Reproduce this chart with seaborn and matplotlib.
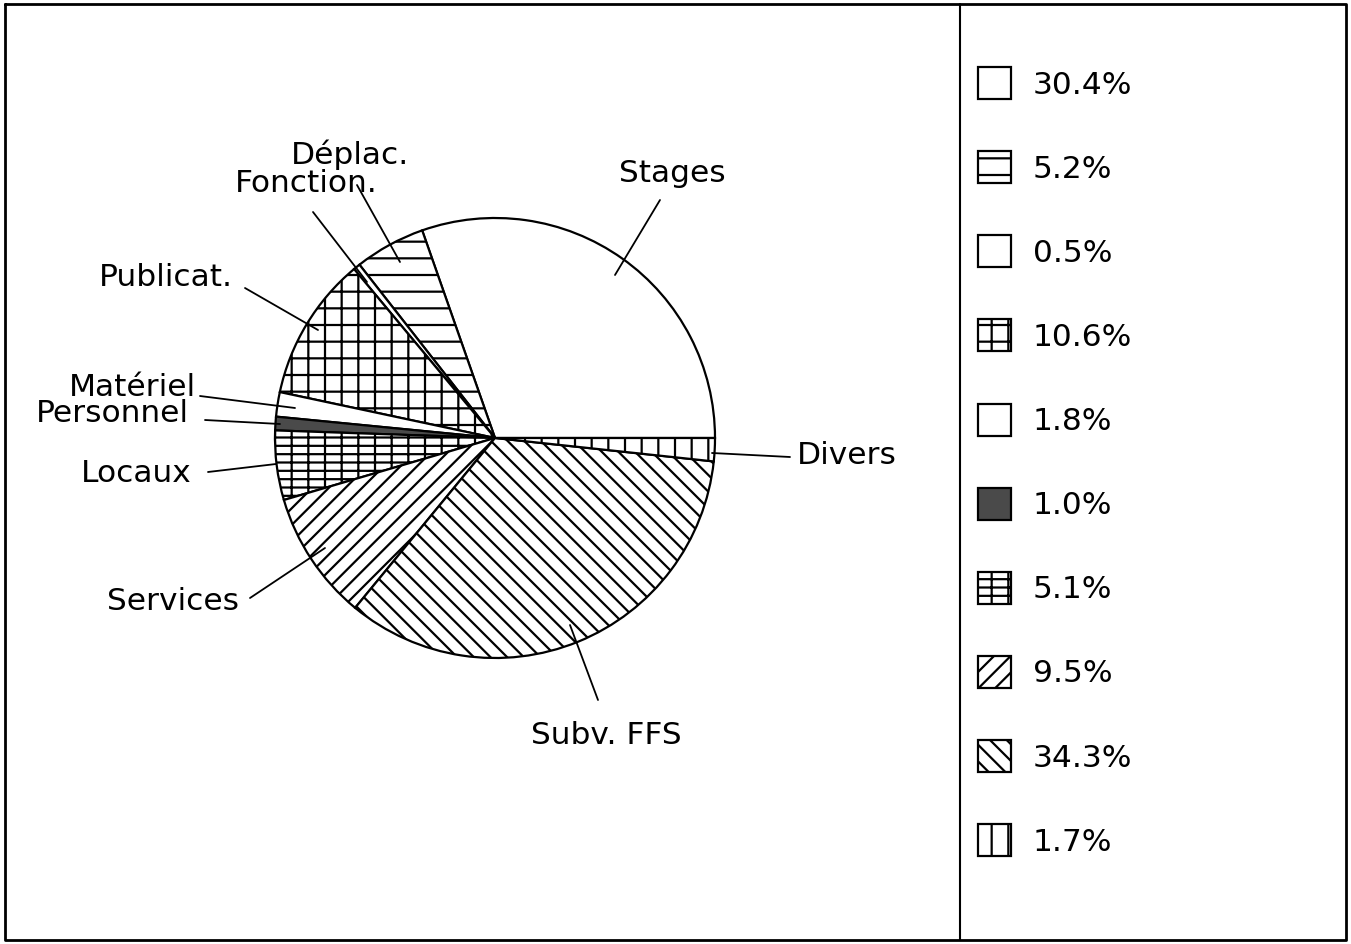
import matplotlib
matplotlib.use("Agg")
import matplotlib.pyplot as plt
import seaborn as sns

# budget breakdown (percent of total)
categories = ["Stages", "Déplac.", "Fonction.", "Publicat.", "Matériel",
              "Personnel", "Locaux", "Services", "Subv. FFS", "Divers"]
shares = [30.4, 5.2, 0.5, 10.6, 1.8, 1.0, 5.1, 9.5, 34.3, 1.7]
hatches = ["", "-", "", "+", "", "", "+-", "//", "\\\\", "|"]
fills = ["white", "white", "white", "white", "white", "#4a4a4a",
         "white", "white", "white", "white"]

sns.set_theme(style="white")
plt.rcParams["font.family"] = ["DejaVu Sans"]
plt.rcParams["text.color"] = "black"
plt.rcParams["hatch.linewidth"] = 1.6
plt.rcParams["hatch.color"] = "black"

W, H = 1351, 944
fig = plt.figure(figsize=(W / 100, H / 100), dpi=100)
ax = fig.add_axes([0, 0, 1, 1])
ax.axis("off")


def Y(y):
    return H - y


wedges, _ = ax.pie(shares, center=(495, Y(438)), radius=220, startangle=0,
                   counterclock=True, colors=fills,
                   wedgeprops=dict(edgecolor="black", linewidth=1.6))
for w, h in zip(wedges, hatches):
    w.set_hatch(h)
ax.set_xlim(0, W)
ax.set_ylim(0, H)
ax.set_aspect("auto")

# category labels and leader lines
label_pos = {
    "Stages": (672, 173), "Déplac.": (350, 155), "Fonction.": (306, 184),
    "Publicat.": (166, 278), "Matériel": (132, 387), "Personnel": (112, 414),
    "Locaux": (136, 473), "Services": (173, 602), "Subv. FFS": (606, 735),
    "Divers": (847, 455),
}
leaders = {
    "Stages": ((660, 200), (615, 275)),
    "Déplac.": ((357, 185), (400, 262)),
    "Fonction.": ((313, 212), (367, 282)),
    "Publicat.": ((245, 288), (318, 330)),
    "Matériel": ((200, 396), (295, 408)),
    "Personnel": ((205, 420), (280, 424)),
    "Locaux": ((208, 472), (276, 464)),
    "Services": ((250, 598), (325, 548)),
    "Subv. FFS": ((598, 700), (570, 625)),
    "Divers": ((790, 457), (712, 453)),
}
for name in categories:
    x, y = label_pos[name]
    ax.text(x, Y(y), name, ha="center", va="center", fontsize=22.5,
            color="black")
    (x0, y0), (x1, y1) = leaders[name]
    ax.plot([x0, x1], [Y(y0), Y(y1)], color="black", lw=1.3)

# frame and divider
ax.plot([5, 1346, 1346, 5, 5], [Y(4), Y(4), Y(940), Y(940), Y(4)],
        color="black", lw=2)
ax.plot([960, 960], [Y(4), Y(940)], color="black", lw=1.5)

# legend with hatched swatches
fig.legend(wedges, [f"{v:.1f}%" for v in shares], loc="upper left",
           bbox_to_anchor=(978 / W, 1 - 67 / H), frameon=False,
           fontsize=22.5, labelcolor="black", handlelength=1.06,
           handleheight=1.2, handletextpad=0.7, labelspacing=1.65,
           borderpad=0, borderaxespad=0)

fig.savefig("out.png", dpi=100, facecolor="white")
